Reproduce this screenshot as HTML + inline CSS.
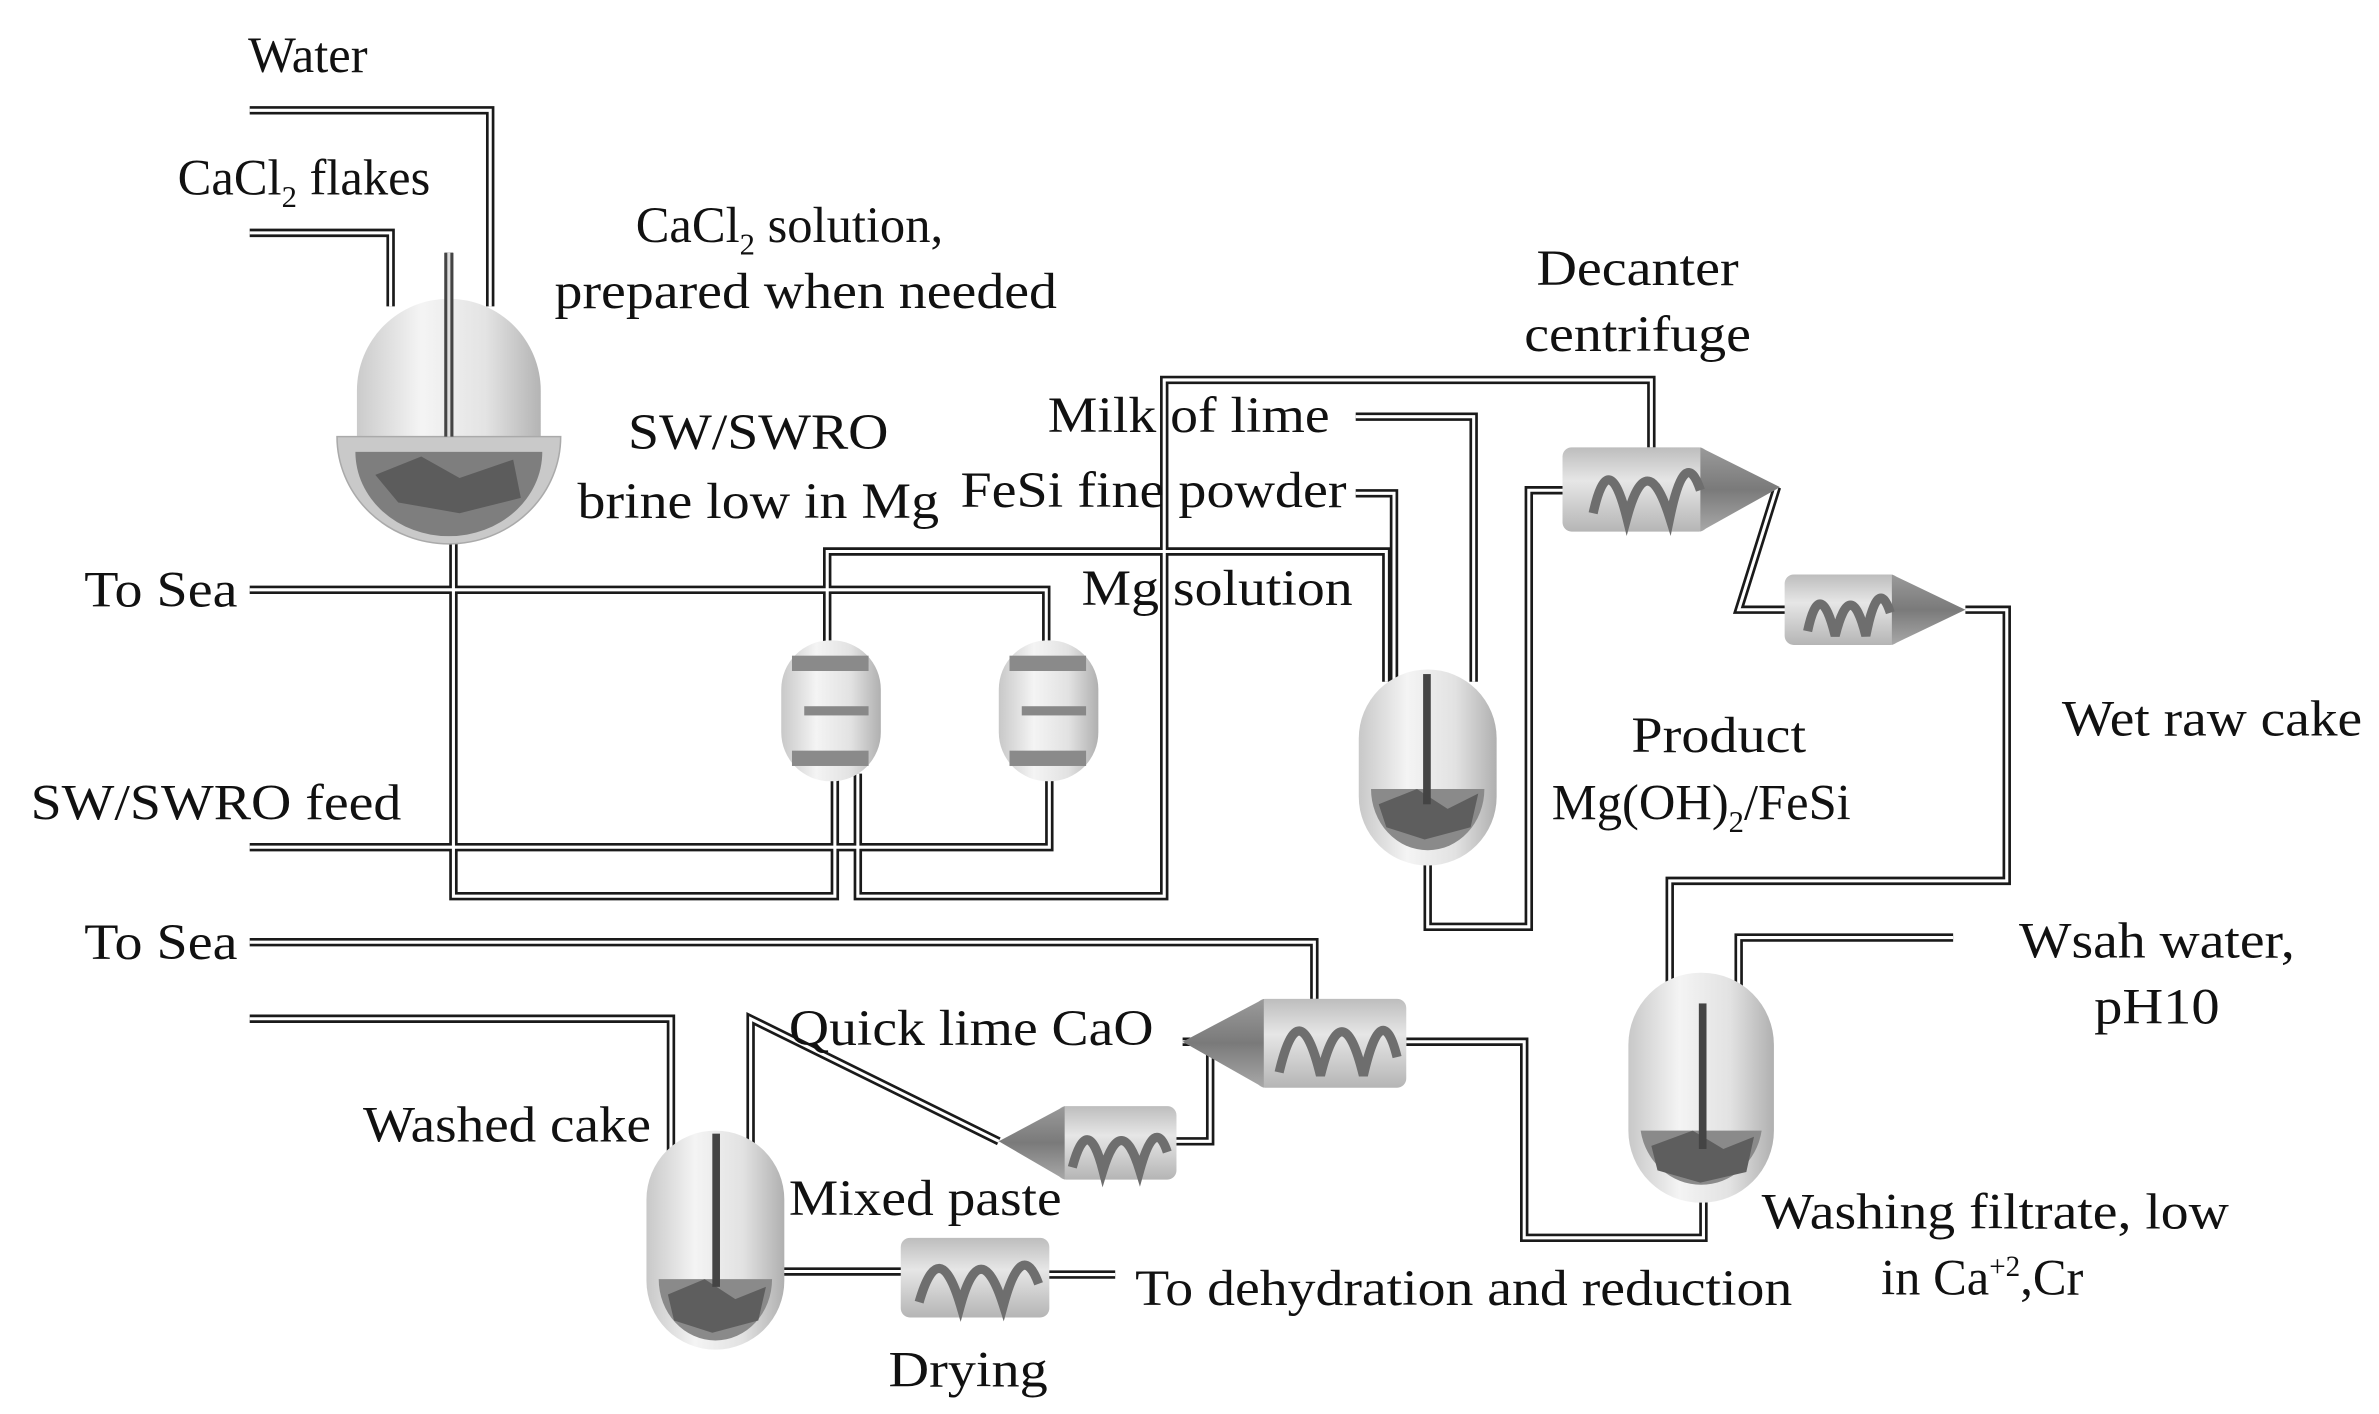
<!DOCTYPE html>
<html><head><meta charset="utf-8"><style>
html,body{margin:0;padding:0;background:#fff}
svg{display:block}
svg text{font-family:"Liberation Serif","Times New Roman","DejaVu Serif",serif;font-size:33px;fill:#111}
</style></head><body>
<svg width="2379" height="1414" viewBox="0 0 1553 923" preserveAspectRatio="none" xmlns="http://www.w3.org/2000/svg" font-family="Liberation Serif, serif">
<defs>
<linearGradient id="tg" x1="0" x2="1" y1="0" y2="0">
<stop offset="0" stop-color="#c8c8c8"/><stop offset="0.35" stop-color="#f4f4f4"/><stop offset="0.7" stop-color="#e2e2e2"/><stop offset="1" stop-color="#b0b0b0"/></linearGradient>
<linearGradient id="cg" x1="0" x2="0" y1="0" y2="1">
<stop offset="0" stop-color="#bdbdbd"/><stop offset="0.4" stop-color="#e6e6e6"/><stop offset="1" stop-color="#b5b5b5"/></linearGradient>
<linearGradient id="cone" x1="0" x2="0" y1="0" y2="1">
<stop offset="0" stop-color="#9a9a9a"/><stop offset="0.5" stop-color="#7a7a7a"/><stop offset="1" stop-color="#a8a8a8"/></linearGradient>
<g id="pipes" fill="none" stroke-linejoin="miter">
<path d="M163,72 H320 V200"/>
<path d="M163,152 H255 V200"/>
<path d="M293,165 V285"/>
<path d="M296,355 V585 H545 V505"/>
<path d="M163,385 H683 V420"/>
<path d="M540,420 V360 H905 V445"/>
<path d="M560,505 V585 H760 V248 H1078 V292"/>
<path d="M163,553 H685 V505"/>
<path d="M885,272 H962 V445"/>
<path d="M885,322 H910 V445"/>
<path d="M932,562 V605 H998 V320 H1025"/>
<path d="M1160,318 L1135,398 H1168"/>
<path d="M1283,398 H1310 V575 H1090 V665"/>
<path d="M1275,612 H1135 V655"/>
<path d="M1112,650 V700"/>
<path d="M1112,780 V808 H995 V680 H918"/>
<path d="M163,615 H858 V652"/>
<path d="M772,680 L790,680 V745 H766"/>
<path d="M652,745 L490,665 V760"/>
<path d="M163,665 H438 V760"/>
<path d="M468,740 V800"/>
<path d="M505,830 H592"/>
<path d="M683,832 H728"/>
</g>
</defs>
<rect width="1553" height="923" fill="#fff"/>
<use href="#pipes" stroke="#1a1a1a" stroke-width="5.5"/>
<use href="#pipes" stroke="#fff" stroke-width="2"/>

<g>
<rect x="233" y="195" width="120" height="150" rx="60" fill="url(#tg)" opacity="0.95"/>
<path d="M220,285 H366 A73,70 0 0 1 220,285 Z" fill="#c9c9c9" stroke="#aaa"/>
<path d="M232,295 H354 A61,55 0 0 1 232,295 Z" fill="#7e7e7e"/>
<path d="M245,310 L275,298 L300,312 L335,300 L340,325 L300,335 L260,328 Z" fill="#5c5c5c"/>
<rect x="290" y="165" width="6" height="120" fill="#444"/><rect x="292" y="165" width="2" height="120" fill="#ddd"/>
</g>

<g>
<rect x="510" y="418" width="65" height="92" rx="32" fill="url(#tg)"/>
<rect x="517" y="428" width="50" height="10" fill="#8a8a8a"/>
<rect x="525" y="461" width="42" height="6" fill="#888"/>
<rect x="517" y="490" width="50" height="10" fill="#8a8a8a"/>
</g>
<g transform="translate(142,0)">
<rect x="510" y="418" width="65" height="92" rx="32" fill="url(#tg)"/>
<rect x="517" y="428" width="50" height="10" fill="#8a8a8a"/>
<rect x="525" y="461" width="42" height="6" fill="#888"/>
<rect x="517" y="490" width="50" height="10" fill="#8a8a8a"/>
</g>

<g>
<rect x="887" y="437" width="90" height="128" rx="45" fill="url(#tg)"/>
<path d="M895,515 H969 A37,40 0 0 1 895,515 Z" fill="#8a8a8a"/>
<path d="M900,525 L925,515 L945,528 L965,518 L960,540 L930,548 L905,540Z" fill="#5e5e5e"/>
<rect x="929" y="440" width="5" height="85" fill="#444"/>
</g>

<g>
<rect x="1063" y="635" width="95" height="150" rx="47" fill="url(#tg)"/>
<path d="M1071,738 H1150 A40,42 0 0 1 1071,738 Z" fill="#8a8a8a"/>
<path d="M1078,748 L1105,738 L1125,750 L1145,742 L1140,765 L1110,772 L1082,764Z" fill="#5e5e5e"/>
<rect x="1109" y="655" width="5" height="95" fill="#444"/>
</g>

<g>
<rect x="422" y="738" width="90" height="143" rx="45" fill="url(#tg)"/>
<path d="M430,835 H504 A37,40 0 0 1 430,835 Z" fill="#8a8a8a"/>
<path d="M436,845 L460,835 L480,848 L500,840 L495,862 L465,870 L440,862Z" fill="#5e5e5e"/>
<rect x="465" y="740" width="5" height="100" fill="#444"/>
</g>

<g>
<rect x="1020" y="292" width="95" height="55" rx="6" fill="url(#cg)"/>
<polygon points="1110,292 1162,318 1110,347" fill="url(#cone)"/>
<path d="M1040,335 Q1050,290 1062,338 Q1075,290 1090,338 Q1100,290 1110,320" fill="none" stroke="#6e6e6e" stroke-width="6"/>
</g>
<g>
<rect x="1165" y="375" width="75" height="46" rx="6" fill="url(#cg)"/>
<polygon points="1235,375 1283,398 1235,421" fill="url(#cone)"/>
<path d="M1180,412 Q1188,375 1198,415 Q1208,375 1218,415 Q1226,375 1234,400" fill="none" stroke="#6e6e6e" stroke-width="6"/>
</g>
<g>
<rect x="820" y="652" width="98" height="58" rx="6" fill="url(#cg)"/>
<polygon points="825,652 772,680 825,710" fill="url(#cone)"/>
<path d="M835,700 Q848,645 862,702 Q876,645 890,702 Q902,650 912,690" fill="none" stroke="#6e6e6e" stroke-width="6"/>
</g>
<g>
<rect x="690" y="722" width="78" height="48" rx="6" fill="url(#cg)"/>
<polygon points="695,722 652,745 695,770" fill="url(#cone)"/>
<path d="M700,762 Q710,725 720,764 Q732,725 744,764 Q754,728 762,752" fill="none" stroke="#6e6e6e" stroke-width="6"/>
</g>
<g>
<rect x="588" y="808" width="97" height="52" rx="6" fill="url(#cg)"/>
<path d="M600,850 Q613,805 627,852 Q640,805 655,852 Q667,808 678,838" fill="none" stroke="#6e6e6e" stroke-width="6"/>
</g>

<text x="162" y="47">Water</text>
<text x="116" y="127">CaCl<tspan font-size="20" dy="8">2</tspan><tspan dy="-8"> flakes</tspan></text>
<text x="415" y="158">CaCl<tspan font-size="20" dy="8">2</tspan><tspan dy="-8"> solution,</tspan></text>
<text x="362" y="201" textLength="328" lengthAdjust="spacingAndGlyphs">prepared when needed</text>
<text x="410" y="293" textLength="170" lengthAdjust="spacingAndGlyphs">SW/SWRO</text>
<text x="377" y="338" textLength="236" lengthAdjust="spacingAndGlyphs">brine low in Mg</text>
<text x="684" y="282" textLength="184" lengthAdjust="spacingAndGlyphs">Milk of lime</text>
<text x="627" y="331" textLength="252" lengthAdjust="spacingAndGlyphs">FeSi fine powder</text>
<text x="706" y="395" textLength="177" lengthAdjust="spacingAndGlyphs">Mg solution</text>
<text x="1003" y="186" textLength="132" lengthAdjust="spacingAndGlyphs">Decanter</text>
<text x="995" y="229" textLength="148" lengthAdjust="spacingAndGlyphs">centrifuge</text>
<text x="1346" y="480" textLength="196" lengthAdjust="spacingAndGlyphs">Wet raw cake</text>
<text x="1065" y="491" textLength="114" lengthAdjust="spacingAndGlyphs">Product</text>
<text x="1013" y="535">Mg(OH)<tspan font-size="20" dy="8">2</tspan><tspan dy="-8">/FeSi</tspan></text>
<text x="55" y="396" textLength="100" lengthAdjust="spacingAndGlyphs">To Sea</text>
<text x="20" y="535" textLength="242" lengthAdjust="spacingAndGlyphs">SW/SWRO feed</text>
<text x="55" y="626" textLength="100" lengthAdjust="spacingAndGlyphs">To Sea</text>
<text x="1318" y="625" textLength="180" lengthAdjust="spacingAndGlyphs">Wsah water,</text>
<text x="1367" y="668" textLength="82" lengthAdjust="spacingAndGlyphs">pH10</text>
<text x="515" y="682" textLength="238" lengthAdjust="spacingAndGlyphs">Quick lime CaO</text>
<text x="237" y="745" textLength="188" lengthAdjust="spacingAndGlyphs">Washed cake</text>
<text x="515" y="793" textLength="178" lengthAdjust="spacingAndGlyphs">Mixed paste</text>
<text x="1150" y="802" textLength="305" lengthAdjust="spacingAndGlyphs">Washing filtrate, low</text>
<text x="1228" y="845">in Ca<tspan font-size="19" dy="-12">+2</tspan><tspan dy="12">,Cr</tspan></text>
<text x="741" y="852" textLength="429" lengthAdjust="spacingAndGlyphs">To dehydration and reduction</text>
<text x="580" y="905" textLength="104" lengthAdjust="spacingAndGlyphs">Drying</text>
</svg>
</body></html>
